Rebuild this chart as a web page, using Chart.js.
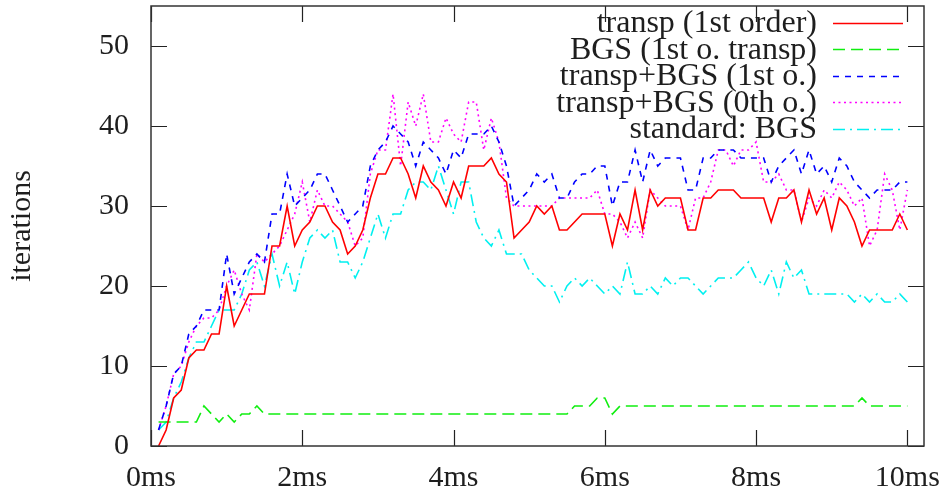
<!DOCTYPE html>
<html>
<head>
<meta charset="utf-8">
<title>iterations</title>
<script src="https://cdn.jsdelivr.net/npm/chart.js@4.4.1/dist/chart.umd.min.js"></script>
<style>
  html, body { margin: 0; padding: 0; background: #fff; }
  #wrap { width: 942px; height: 489px; }
</style>
</head>
<body>
<div id="wrap"><canvas id="iterChart" width="942" height="489"></canvas></div>
<script>
// sample times (ms)
const times = [
  0.1, 0.2, 0.3, 0.4, 0.5, 0.6, 0.7, 0.8, 0.9, 1.0,
  1.1, 1.2, 1.3, 1.4, 1.5, 1.6, 1.7, 1.8, 1.9, 2.0,
  2.1, 2.2, 2.3, 2.4, 2.5, 2.6, 2.7, 2.8, 2.9, 3.0,
  3.1, 3.2, 3.3, 3.4, 3.5, 3.6, 3.7, 3.8, 3.9, 4.0,
  4.1, 4.2, 4.3, 4.4, 4.5, 4.6, 4.7, 4.8, 4.9, 5.0,
  5.1, 5.2, 5.3, 5.4, 5.5, 5.6, 5.7, 5.8, 5.9, 6.0,
  6.1, 6.2, 6.3, 6.4, 6.5, 6.6, 6.7, 6.8, 6.9, 7.0,
  7.1, 7.2, 7.3, 7.4, 7.5, 7.6, 7.7, 7.8, 7.9, 8.0,
  8.1, 8.2, 8.3, 8.4, 8.5, 8.6, 8.7, 8.8, 8.9, 9.0,
  9.1, 9.2, 9.3, 9.4, 9.5, 9.6, 9.7, 9.8, 9.9, 10.0
];

const transp1st = [
  0, 2, 6, 7, 11, 12, 12, 14, 14, 20,
  15, 17, 19, 19, 19, 25, 25, 30, 25, 27,
  28, 30, 30, 28, 27, 24, 25, 27, 31, 34,
  34, 36, 36, 34, 31, 35, 33, 32, 30, 33,
  31, 35, 35, 35, 36, 34, 33, 26, 27, 28,
  30, 29, 30, 27, 27, 28, 29, 29, 29, 29,
  25, 29, 27, 32, 27, 32, 30, 31, 31, 31,
  27, 27, 31, 31, 32, 32, 32, 31, 31, 31,
  31, 28, 31, 31, 32, 28, 32, 29, 31, 27,
  31, 30, 28, 25, 27, 27, 27, 27, 29, 27
];

const bgsTransp = [
  3, 3, 3, 3, 3, 3, 5, 4, 3, 4,
  3, 4, 4, 5, 4, 4, 4, 4, 4, 4,
  4, 4, 4, 4, 4, 4, 4, 4, 4, 4,
  4, 4, 4, 4, 4, 4, 4, 4, 4, 4,
  4, 4, 4, 4, 4, 4, 4, 4, 4, 4,
  4, 4, 4, 4, 4, 5, 5, 5, 6, 6,
  4, 5, 5, 5, 5, 5, 5, 5, 5, 5,
  5, 5, 5, 5, 5, 5, 5, 5, 5, 5,
  5, 5, 5, 5, 5, 5, 5, 5, 5, 5,
  5, 5, 5, 6, 5, 5, 5, 5, 5, 5
];

const transpBgs1st = [
  2, 5, 9, 10, 14, 15, 17, 17, 17, 24,
  19, 21, 23, 24, 23, 29, 29, 34, 30, 31,
  32, 34, 34, 32, 30, 28, 29, 30, 35, 37,
  38, 40, 39, 38, 35, 38, 37, 36, 34, 37,
  36, 39, 39, 39, 40, 38, 35, 30, 31, 32,
  34, 33, 34, 31, 31, 33, 34, 34, 35, 35,
  30, 33, 33, 37, 33, 37, 35, 36, 36, 36,
  32, 32, 36, 36, 37, 37, 37, 36, 36, 36,
  36, 33, 35, 36, 37, 34, 37, 34, 35, 33,
  36, 35, 33, 32, 31, 32, 32, 32, 33, 33
];

const transpBgs0th = [
  2, 5, 9, 10, 13, 15, 16, 16, 17, 20,
  22, 19, 17, 24, 23, 24, 25, 27, 29, 33,
  28, 32, 30, 30, 29, 28, 25, 26, 34, 37,
  37, 44, 35, 43, 40, 44, 38, 38, 41, 39,
  38, 43, 43, 37, 41, 38, 31, 30, 30, 30,
  30, 30, 30, 31, 31, 31, 31, 31, 32, 29,
  29, 28, 26, 28, 26, 32, 31, 30, 30, 30,
  27, 31, 31, 33, 37, 37, 35, 37, 37, 38,
  33, 33, 34, 32, 32, 28, 31, 30, 32, 31,
  33, 32, 30, 31, 25, 27, 34, 32, 27, 32
];

const standardBgs = [
  2, 3, 6, 8, 11, 13, 13, 15, 17, 17,
  17, 19, 22, 23, 20, 24, 20, 23, 19, 23,
  26, 27, 26, 27, 23, 23, 21, 23, 26, 29,
  26, 29, 29, 32, 33, 33, 32, 35, 32, 29,
  33, 33, 28, 26, 25, 27, 24, 24, 24, 22,
  21, 20, 20, 18, 20, 21, 20, 21, 20, 19,
  20, 19, 23, 19, 19, 20, 19, 21, 20, 21,
  21, 20, 19, 20, 21, 21, 21, 22, 23, 21,
  20, 22, 19, 23, 21, 22, 19, 19, 19, 19,
  19, 19, 18, 19, 18, 19, 18, 18, 19, 18
];

const seriesNames = [
  'transp (1st order)',
  'BGS (1st o. transp)',
  'transp+BGS (1st o.)',
  'transp+BGS (0th o.)',
  'standard: BGS'
];

const xTicks = [0, 2, 4, 6, 8, 10];
const yTicks = [0, 10, 20, 30, 40, 50];

const textColor = '#1e1e1e';
const serif = "'Liberation Serif', 'DejaVu Serif', serif";

function points(values) {
  return values.map((v, i) => ({ x: times[i], y: v }));
}

function lineSet(label, values, color, dash) {
  return {
    label: label,
    data: points(values),
    borderColor: color,
    backgroundColor: color,
    borderWidth: 1.6,
    borderDash: dash,
    pointRadius: 0,
    tension: 0,
    fill: false
  };
}

// border box with inward tick marks on all four sides
const frameTicks = {
  id: 'frameTicks',
  afterDatasetsDraw(chart) {
    const { ctx, chartArea: a, scales } = chart;
    const len = 16;
    ctx.save();
    ctx.strokeStyle = '#222';
    ctx.lineWidth = 1.2;
    ctx.beginPath();
    xTicks.forEach(v => {
      const px = Math.round(scales.x.getPixelForValue(v)) + 0.5;
      ctx.moveTo(px, a.bottom); ctx.lineTo(px, a.bottom - len);
      ctx.moveTo(px, a.top); ctx.lineTo(px, a.top + len);
    });
    yTicks.forEach(v => {
      const py = Math.round(scales.y.getPixelForValue(v)) + 0.5;
      ctx.moveTo(a.left, py); ctx.lineTo(a.left + len, py);
      ctx.moveTo(a.right, py); ctx.lineTo(a.right - len, py);
    });
    ctx.stroke();
    ctx.lineWidth = 1.5;
    ctx.strokeStyle = '#333';
    ctx.strokeRect(a.left, a.top, a.right - a.left, a.bottom - a.top);
    ctx.restore();
  }
};

// gnuplot style key: right aligned text, line sample to its right
const sideKey = {
  id: 'sideKey',
  afterDatasetsDraw(chart) {
    const { ctx } = chart;
    const textRight = 817, lineStart = 833, lineEnd = 903;
    const firstRow = 22.5, rowStep = 26.6;
    ctx.save();
    ctx.font = '32px ' + serif;
    ctx.textAlign = 'right';
    ctx.textBaseline = 'middle';
    chart.data.datasets.forEach((ds, i) => {
      const y = firstRow + i * rowStep;
      ctx.fillStyle = textColor;
      ctx.fillText(ds.label, textRight, y + 1);
      ctx.strokeStyle = ds.borderColor;
      ctx.lineWidth = ds.borderWidth;
      ctx.setLineDash(ds.borderDash || []);
      ctx.beginPath();
      ctx.moveTo(lineStart, Math.round(y) + 0.5);
      ctx.lineTo(lineEnd, Math.round(y) + 0.5);
      ctx.stroke();
    });
    ctx.restore();
  }
};

Chart.defaults.font.family = serif;
Chart.defaults.font.size = 30;
Chart.defaults.color = textColor;

new Chart(document.getElementById('iterChart'), {
  type: 'line',
  data: {
    datasets: [
      lineSet(seriesNames[0], transp1st, '#ff0000', []),
      lineSet(seriesNames[1], bgsTransp, '#10ee10', [12, 6]),
      lineSet(seriesNames[2], transpBgs1st, '#0000ff', [6, 6]),
      lineSet(seriesNames[3], transpBgs0th, '#ff00ff', [2, 3.5]),
      lineSet(seriesNames[4], standardBgs, '#00f0f0', [12, 5, 2, 5])
    ]
  },
  options: {
    responsive: false,
    animation: false,
    layout: { padding: { top: 6, right: 18, left: 0, bottom: 0 } },
    plugins: {
      legend: { display: false },
      tooltip: { enabled: false }
    },
    scales: {
      x: {
        type: 'linear',
        min: 0,
        max: 10.22,
        grid: { display: false },
        border: { display: false },
        ticks: {
          padding: 6,
          maxRotation: 0,
          callback: v => v + 'ms'
        },
        afterBuildTicks: s => { s.ticks = xTicks.map(v => ({ value: v })); },
        afterFit: s => {
          s.height = 43;
          s.paddingLeft = 0;
          s.paddingRight = 0;
        }
      },
      y: {
        min: 0,
        max: 55,
        grid: { display: false },
        border: { display: false },
        ticks: { padding: 14 },
        afterBuildTicks: s => { s.ticks = yTicks.map(v => ({ value: v })); },
        afterFit: s => {
          s.width = 151;
          s.paddingTop = 0;
          s.paddingBottom = 0;
        },
        title: {
          display: true,
          text: 'iterations',
          font: { size: 30 },
          padding: { top: 4 }
        }
      }
    }
  },
  plugins: [frameTicks, sideKey]
});
</script>
</body>
</html>
